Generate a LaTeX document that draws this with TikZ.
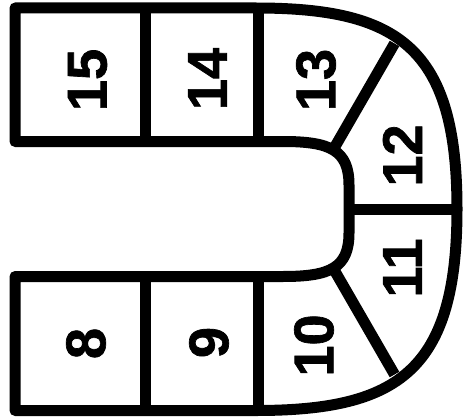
\documentclass[tikz,border=0pt]{standalone}
\usepackage{fontspec}
\setmainfont{Liberation Sans}
\newfontfamily\numfont{Liberation Sans}[BoldFeatures={FakeBold=1.2}]
\begin{document}
\begin{tikzpicture}[x=1pt,y=-1pt,
  wall/.style={line width=11pt,line join=round,line cap=butt},
  num/.style={font=\fontsize{56}{56}\numfont\bfseries,inner sep=0pt,rotate=90}]
\useasboundingbox (0,0) rectangle (463,420);
% outline
\draw[wall] (15,8) -- (256,8)
  .. controls (399,8) and (457,48) .. (457,209)
  .. controls (457,370) and (399,410.5) .. (256,410.5)
  -- (15,410.5) -- (15,276.5) -- (283,276.5)
  .. controls (330,276.5) and (349,268) .. (349,233)
  -- (349,185)
  .. controls (349,150) and (330,141.5) .. (283,141.5)
  -- (15,141.5) -- cycle;
% dividers
\coordinate (a1) at (145.5,8);   \coordinate (a2) at (145.5,141.5);
\coordinate (b1) at (258,8);     \coordinate (b2) at (258,141.5);
\coordinate (d1) at (145.5,276.5); \coordinate (d2) at (145.5,410.5);
\coordinate (e1) at (258,276.5);   \coordinate (e2) at (258,410.5);
\coordinate (f1) at (332,151.8); \coordinate (f2) at (394.5,43.5);
\coordinate (g1) at (349,209);   \coordinate (g2) at (457,209);
\coordinate (h1) at (332,266.2); \coordinate (h2) at (394.5,374.5);
\draw[wall] (a1) -- (a2);
\draw[wall] (b1) -- (b2);
\draw[wall] (d1) -- (d2);
\draw[wall] (e1) -- (e2);
\draw[wall] (f1) -- (f2);
\draw[wall] (g1) -- (g2);
\draw[wall] (h1) -- (h2);
% labels
\node[num] (n15) at (87.5,80) {15};
\node[num] (n14) at (207.5,79) {14};
\node[num] (n13) at (316,80) {13};
\node[num] (n12) at (402.5,155.5) {12};
\node[num] (n11) at (402.5,268) {11};
\node[num] (n10) at (314,345.5) {10};
\node[num] (n9) at (209,342.5) {9};
\node[num] (n8) at (86,343.5) {8};
\end{tikzpicture}
\end{document}
